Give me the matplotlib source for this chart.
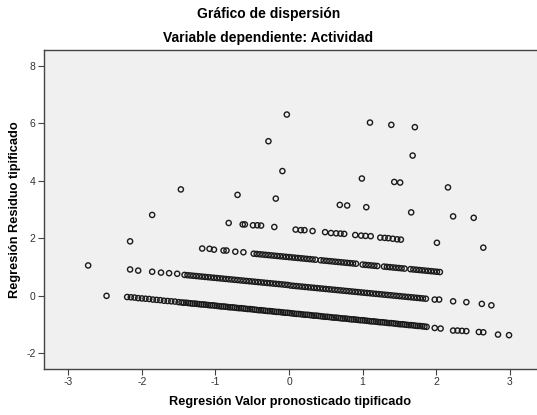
import matplotlib
matplotlib.use("Agg")
import matplotlib.pyplot as plt

plt.rcParams['font.family'] = ['Liberation Sans', 'DejaVu Sans']
plt.rcParams['axes.unicode_minus'] = False

# Datos: valor pronosticado tipificado (x) y residuo tipificado (y)
# banda inferior
banda0_x = [-2.48,
            -2.20, -2.15, -2.10, -2.05, -2.00, -1.95, -1.90, -1.85, -1.80, -1.75, -1.70, -1.65, -1.60, -1.55, -1.50,
            -1.46, -1.43, -1.40, -1.37, -1.34, -1.31, -1.28, -1.25, -1.22, -1.19, -1.16, -1.13, -1.10, -1.07, -1.04,
            -1.01, -0.98, -0.95, -0.92, -0.89, -0.86, -0.83, -0.80, -0.77, -0.74, -0.71, -0.68, -0.65, -0.62, -0.59,
            -0.56, -0.53, -0.50, -0.47, -0.44, -0.41, -0.38, -0.35, -0.32, -0.29, -0.26, -0.23, -0.20, -0.17, -0.14,
            -0.11, -0.08, -0.05, -0.02, 0.01, 0.04, 0.07, 0.10, 0.13, 0.16, 0.19, 0.22, 0.25, 0.28, 0.31, 0.34, 0.37,
            0.40, 0.43, 0.46, 0.49, 0.52, 0.55, 0.58, 0.61, 0.64, 0.67, 0.70, 0.73, 0.76, 0.79, 0.82, 0.85, 0.88, 0.91,
            0.94, 0.97, 1.00, 1.03, 1.06, 1.09, 1.12, 1.15, 1.18, 1.21, 1.24, 1.27, 1.30, 1.33, 1.36, 1.39, 1.42, 1.45,
            1.48, 1.51, 1.54, 1.57, 1.60, 1.63, 1.66, 1.69, 1.72, 1.75, 1.78, 1.81, 1.84, 1.87,
            1.98, 2.06, 2.23, 2.29, 2.35, 2.41, 2.58, 2.64, 2.84, 2.99]
banda0_y = [-0.01,
            -0.05, -0.06, -0.07, -0.09, -0.10, -0.11, -0.12, -0.14, -0.15, -0.16, -0.18, -0.19, -0.20, -0.21, -0.23,
            -0.24, -0.25, -0.25, -0.26, -0.27, -0.28, -0.28, -0.29, -0.30, -0.31, -0.31, -0.32, -0.33, -0.34, -0.34,
            -0.35, -0.36, -0.37, -0.38, -0.38, -0.39, -0.40, -0.41, -0.41, -0.42, -0.43, -0.44, -0.44, -0.45, -0.46,
            -0.47, -0.47, -0.48, -0.49, -0.50, -0.51, -0.51, -0.52, -0.53, -0.54, -0.54, -0.55, -0.56, -0.57, -0.57,
            -0.58, -0.59, -0.60, -0.60, -0.61, -0.62, -0.63, -0.64, -0.64, -0.65, -0.66, -0.67, -0.67, -0.68, -0.69, -0.70, -0.70,
            -0.71, -0.72, -0.73, -0.74, -0.74, -0.75, -0.76, -0.77, -0.77, -0.78, -0.79, -0.80, -0.80, -0.81, -0.82, -0.83, -0.83, -0.84,
            -0.85, -0.86, -0.86, -0.87, -0.88, -0.89, -0.90, -0.90, -0.91, -0.92, -0.93, -0.93, -0.94, -0.95, -0.96, -0.96, -0.97, -0.98,
            -0.99, -1.00, -1.00, -1.01, -1.02, -1.03, -1.03, -1.04, -1.05, -1.06, -1.06, -1.07, -1.08, -1.09,
            -1.13, -1.15, -1.22, -1.22, -1.23, -1.24, -1.27, -1.28, -1.36, -1.38]

# segunda banda
banda1_x = [-2.73, -2.16, -2.05, -1.86, -1.74, -1.63, -1.52, -1.42,
            -1.38, -1.34, -1.30, -1.26, -1.22, -1.18, -1.14, -1.10, -1.06, -1.02, -0.98, -0.94, -0.90, -0.86,
            -0.82, -0.78, -0.74, -0.70, -0.66, -0.62, -0.58, -0.54, -0.50, -0.46, -0.42, -0.38, -0.34, -0.30,
            -0.26, -0.22, -0.18, -0.14, -0.10, -0.06, -0.02, 0.02, 0.06, 0.10, 0.14, 0.18, 0.22, 0.26, 0.30,
            0.34, 0.38, 0.42, 0.46, 0.50, 0.54, 0.58, 0.62, 0.66, 0.70, 0.74, 0.78, 0.82, 0.86, 0.90, 0.94,
            0.98, 1.02, 1.06, 1.10, 1.14, 1.18, 1.22, 1.26, 1.30, 1.34, 1.38, 1.42, 1.46, 1.50, 1.54, 1.58,
            1.62, 1.66, 1.70, 1.74, 1.78, 1.82, 1.86,
            1.98, 2.04, 2.23, 2.41, 2.62, 2.75]
banda1_y = [1.05, 0.91, 0.87, 0.83, 0.80, 0.78, 0.76, 0.72,
            0.71, 0.70, 0.69, 0.68, 0.67, 0.66, 0.65, 0.64, 0.63, 0.62, 0.61, 0.60, 0.59, 0.58,
            0.57, 0.56, 0.55, 0.54, 0.53, 0.52, 0.51, 0.50, 0.49, 0.48, 0.47, 0.46, 0.45, 0.44,
            0.43, 0.42, 0.41, 0.40, 0.39, 0.38, 0.37, 0.35, 0.34, 0.33, 0.32, 0.31, 0.30, 0.29, 0.28,
            0.27, 0.26, 0.25, 0.24, 0.23, 0.22, 0.21, 0.20, 0.19, 0.18, 0.17, 0.16, 0.15, 0.14, 0.13, 0.12,
            0.11, 0.10, 0.09, 0.08, 0.07, 0.06, 0.05, 0.04, 0.03, 0.02, 0.01, 0.00, -0.01, -0.02, -0.03, -0.04,
            -0.05, -0.06, -0.07, -0.08, -0.09, -0.10, -0.11,
            -0.14, -0.14, -0.20, -0.23, -0.29, -0.34]

# tercera banda
banda2_x = [-2.16, -1.18, -1.08, -1.02, -0.89, -0.85, -0.73, -0.62,
            -0.48, -0.44, -0.40, -0.36, -0.32, -0.28, -0.24, -0.20, -0.16, -0.12, -0.08, -0.04, 0.00, 0.04,
            0.08, 0.12, 0.16, 0.20, 0.24, 0.28, 0.32, 0.36,
            0.43, 0.47, 0.51, 0.55, 0.59, 0.63, 0.67, 0.71, 0.75, 0.79, 0.83, 0.87, 0.91,
            1.00, 1.04, 1.08, 1.12, 1.16, 1.20,
            1.29, 1.33, 1.37, 1.41, 1.45, 1.49, 1.53, 1.57,
            1.65, 1.69, 1.73, 1.77, 1.81, 1.85, 1.89, 1.93, 1.97, 2.01, 2.05]
banda2_y = [1.89, 1.64, 1.63, 1.60, 1.57, 1.57, 1.53, 1.51,
            1.46, 1.45, 1.44, 1.43, 1.42, 1.41, 1.40, 1.39, 1.38, 1.37, 1.36, 1.35, 1.34, 1.33,
            1.32, 1.31, 1.30, 1.29, 1.28, 1.27, 1.26, 1.25,
            1.23, 1.22, 1.21, 1.20, 1.19, 1.18, 1.17, 1.16, 1.15, 1.14, 1.13, 1.12, 1.11,
            1.08, 1.07, 1.06, 1.05, 1.04, 1.03,
            1.01, 1.00, 0.99, 0.98, 0.97, 0.96, 0.95, 0.94,
            0.92, 0.91, 0.90, 0.89, 0.88, 0.87, 0.86, 0.85, 0.84, 0.83, 0.82]

# cuarta banda
banda3_x = [-1.86, -0.82, -0.63, -0.60, -0.49, -0.43, -0.38, -0.20,
            0.09, 0.16, 0.21, 0.32, 0.49, 0.57, 0.64, 0.70, 0.75, 0.90, 0.98, 1.04, 1.11,
            1.24, 1.30, 1.35, 1.41, 1.47, 1.52, 2.01, 2.64]
banda3_y = [2.81, 2.53, 2.48, 2.48, 2.45, 2.45, 2.44, 2.39,
            2.30, 2.28, 2.28, 2.25, 2.21, 2.18, 2.17, 2.16, 2.15, 2.11, 2.09, 2.08, 2.07,
            2.02, 2.01, 2.00, 1.98, 1.96, 1.95, 1.84, 1.67]

# puntos aislados superiores
altos_x = [-1.47, -0.70, -0.18, 0.69, 0.79, 1.05, 1.66, 2.23, 2.51,
           -0.09, 0.99, 1.43, 1.51, 2.16,
           -0.28, 1.68,
           -0.03, 1.10, 1.39, 1.71]
altos_y = [3.70, 3.51, 3.38, 3.16, 3.14, 3.08, 2.90, 2.76, 2.71,
           4.34, 4.08, 3.96, 3.94, 3.77,
           5.38, 4.88,
           6.31, 6.03, 5.95, 5.87]

xs = banda0_x + banda1_x + banda2_x + banda3_x + altos_x
ys = banda0_y + banda1_y + banda2_y + banda3_y + altos_y

fig = plt.figure(figsize=(5.37, 4.15), dpi=100)
ax = fig.add_axes([44 / 537, 46 / 415, 493 / 537, 319 / 415])
ax.set_facecolor('#f0f0f0')

ax.scatter(xs, ys, s=14, facecolors='none', edgecolors='#1a1a1a', linewidths=1.0)

ax.set_xlim(-3.33, 3.37)
ax.set_ylim(-2.56, 8.56)
ax.set_xticks([-3, -2, -1, 0, 1, 2, 3])
ax.set_yticks([-2, 0, 2, 4, 6, 8])
ax.tick_params(direction='out', length=4, width=0.8, color='#444444',
               labelsize=7.5, labelcolor='#333333', pad=2)

for lado in ['left', 'top', 'bottom']:
    ax.spines[lado].set_color('#444444')
    ax.spines[lado].set_linewidth(1.0)
ax.spines['right'].set_visible(False)

fig.text(0.5, (415 - 14) / 415, 'Gráfico de dispersión', ha='center', va='center',
         fontsize=10, fontweight='bold')
fig.text(0.5, (415 - 38) / 415, 'Variable dependiente: Actividad', ha='center', va='center',
         fontsize=10, fontweight='bold')
fig.text(290 / 537, (415 - 402) / 415, 'Regresión Valor pronosticado tipificado',
         ha='center', va='center', fontsize=9.2, fontweight='bold')
fig.text(15 / 537, (415 - 210) / 415, 'Regresión Residuo tipificado', rotation=90,
         ha='center', va='center', fontsize=9.2, fontweight='bold')

fig.savefig('out.png', dpi=100)
